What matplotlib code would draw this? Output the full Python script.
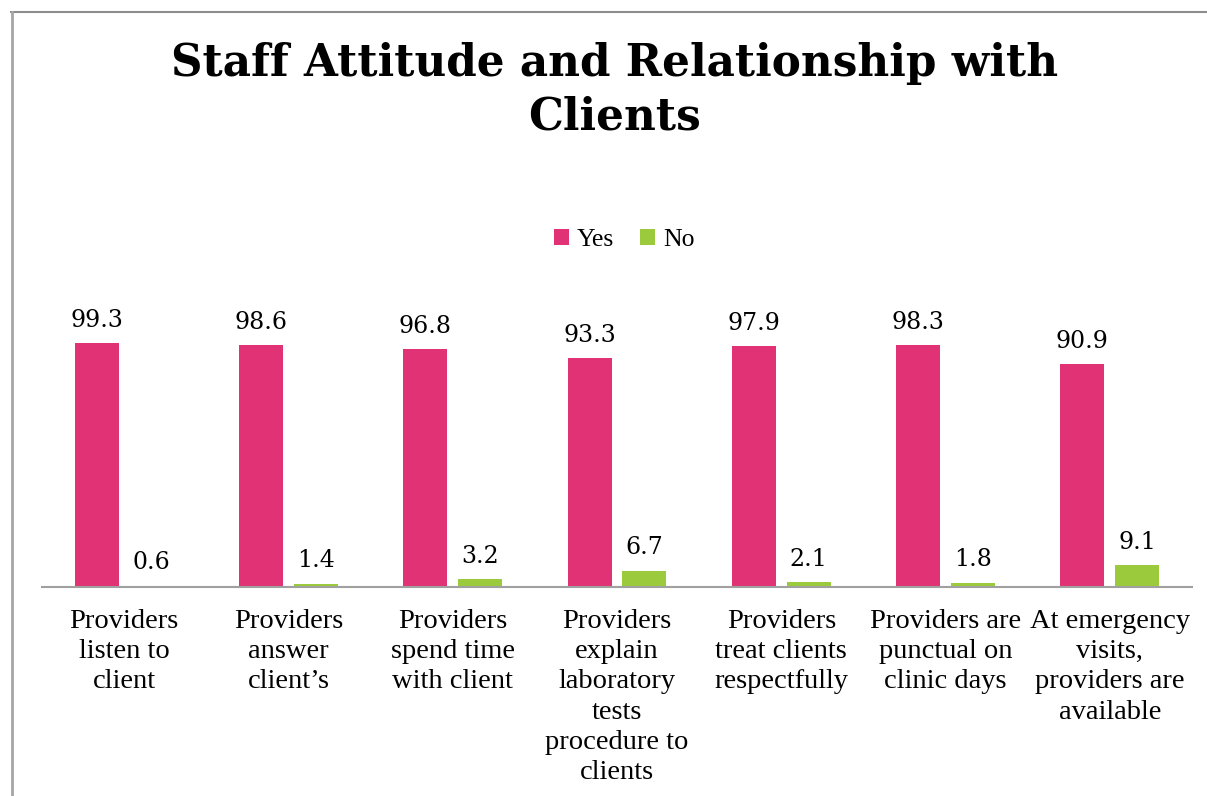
import numpy as np
import matplotlib.pyplot as plt

# survey results (%)
categories = ["Providers\nlisten to\nclient", "Providers\nanswer\nclient\u2019s",
              "Providers\nspend time\nwith client",
              "Providers\nexplain\nlaboratory\ntests\nprocedure to\nclients",
              "Providers\ntreat clients\nrespectfully", "Providers are\npunctual on\nclinic days",
              "At emergency\nvisits,\nproviders are\navailable"]
yes_vals = [99.3, 98.6, 96.8, 93.3, 97.9, 98.3, 90.9]
no_vals = [0.6, 1.4, 3.2, 6.7, 2.1, 1.8, 9.1]

pink = "#E03274"
green = "#9BCB3C"
serif = "Liberation Serif"

W, H = 1207, 796
fig = plt.figure(figsize=(W / 100, H / 100), dpi=100)

# outer chart frame (top and left edges visible)
fig.add_artist(plt.Line2D([11 / W, 1], [1 - 12 / H, 1 - 12 / H], color="#8c8c8c", lw=1.5))
fig.add_artist(plt.Line2D([11.5 / W, 11.5 / W], [0, 1 - 12 / H], color="#a6a6a6", lw=2))

# plot area: baseline at y=587px, x from 42 to 1192 px
ymax = 120
top_px = 587 - 2.457 * ymax
ax = fig.add_axes([42 / W, 1 - 587 / H, 1150 / W, (587 - top_px) / H])

x = np.arange(len(categories))
bw = 0.268
off = 0.167
b1 = ax.bar(x - off, yes_vals, bw, color=pink, label="Yes")
b2 = ax.bar(x + off, no_vals, bw, color=green, label="No")

for bars, vals in ((b1, yes_vals), (b2, no_vals)):
    for r, v in zip(bars, vals):
        ax.annotate(f"{v}", (r.get_x() + r.get_width() / 2, v), xytext=(0, 8),
                    textcoords="offset points", ha="center", va="bottom",
                    fontsize=17, family="DejaVu Serif")

ax.set_xlim(-0.5, len(categories) - 0.5)
ax.set_ylim(0, ymax)
ax.set_yticks([])
ax.set_xticks(x)
ax.set_xticklabels(categories, fontsize=20.5, family=serif, linespacing=1.27)
ax.tick_params(axis="x", length=0, pad=16)
for s in ("top", "right", "left"):
    ax.spines[s].set_visible(False)
ax.spines["bottom"].set_color("#a0a0a0")
ax.spines["bottom"].set_linewidth(1.5)

fig.text(615 / W, 1 - 90 / H, "Staff Attitude and Relationship with\nClients",
         ha="center", va="center", fontsize=31.5, fontweight="bold",
         family="DejaVu Serif", linespacing=1.3)

fig.legend(handles=[b1, b2], loc="center", bbox_to_anchor=(624 / W, 1 - 240 / H),
           ncol=2, frameon=False, prop={"family": serif, "size": 18.5},
           handlelength=0.6, handleheight=0.6, handletextpad=0.3, columnspacing=1.0)

fig.savefig("out.png", dpi=100)
